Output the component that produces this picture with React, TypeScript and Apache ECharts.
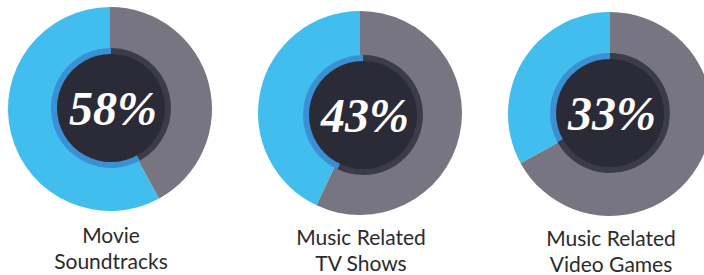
import React, { useEffect, useRef } from "react";
import * as echarts from "echarts";

const categories = ["Movie\nSoundtracks", "Music Related\nTV Shows", "Music Related\nVideo Games"];
const shares = [58, 43, 33];
const percentLabels = ["58%", "43%", "33%"];

const centers: [number, number][] = [
  [110, 109],
  [360, 113],
  [610, 114],
];
const innerCenters: [number, number][] = [
  [111, 108],
  [363, 115],
  [610, 113],
];
const labelY = [221, 223, 224];

const BLUE = "#41bdee";
const GRAY = "#767581";
const RING_BLUE = "#3b8fd3";
const RING_GRAY = "#3b3b4a";
const DARK = "#2a2b36";

export default function App() {
  const ref = useRef<HTMLDivElement>(null);
  useEffect(() => {
    if (!ref.current) return;
    const chart = echarts.init(ref.current, undefined, { renderer: "svg" });
    const series: any[] = [];
    const graphics: any[] = [];
    shares.forEach((v, i) => {
      const data = [
        { value: v, name: "yes" },
        { value: 100 - v, name: "no" },
      ];
      series.push({
        type: "pie",
        center: centers[i],
        radius: [45, 102],
        startAngle: 90,
        clockwise: false,
        silent: true,
        label: { show: false },
        labelLine: { show: false },
        itemStyle: { borderWidth: 0 },
        data: data.map((d, j) => ({ ...d, itemStyle: { color: j === 0 ? BLUE : GRAY } })),
      });
      series.push({
        type: "pie",
        center: innerCenters[i],
        radius: [50, 60],
        startAngle: 90,
        clockwise: false,
        silent: true,
        label: { show: false },
        labelLine: { show: false },
        itemStyle: { borderWidth: 0 },
        data: data.map((d, j) => ({ ...d, itemStyle: { color: j === 0 ? RING_BLUE : RING_GRAY } })),
      });
      series.push({
        type: "pie",
        center: innerCenters[i],
        radius: [0, 54],
        silent: true,
        labelLine: { show: false },
        itemStyle: { color: DARK, borderWidth: 0 },
        label: {
          show: true,
          position: "center",
          formatter: percentLabels[i],
          color: "#ffffff",
          fontFamily: "Liberation Serif",
          fontStyle: "italic",
          fontWeight: "bold",
          fontSize: 48,
          offset: [2, 0],
        },
        data: [{ value: 1, name: "center" }],
      });
      graphics.push({
        type: "text",
        x: centers[i][0] + 1,
        y: labelY[i],
        style: {
          text: categories[i],
          align: "center",
          verticalAlign: "top",
          fontFamily: "Lato",
          fontSize: 21,
          lineHeight: 26,
          fill: "#2b2b2b",
        },
      });
    });
    chart.setOption({
      animation: false,
      backgroundColor: "#ffffff",
      series,
      graphic: graphics,
    });
    return () => chart.dispose();
  }, []);
  return (
    <div
      ref={ref}
      style={{ position: "fixed", left: 0, top: 0, width: 704, height: 275 }}
    />
  );
}
